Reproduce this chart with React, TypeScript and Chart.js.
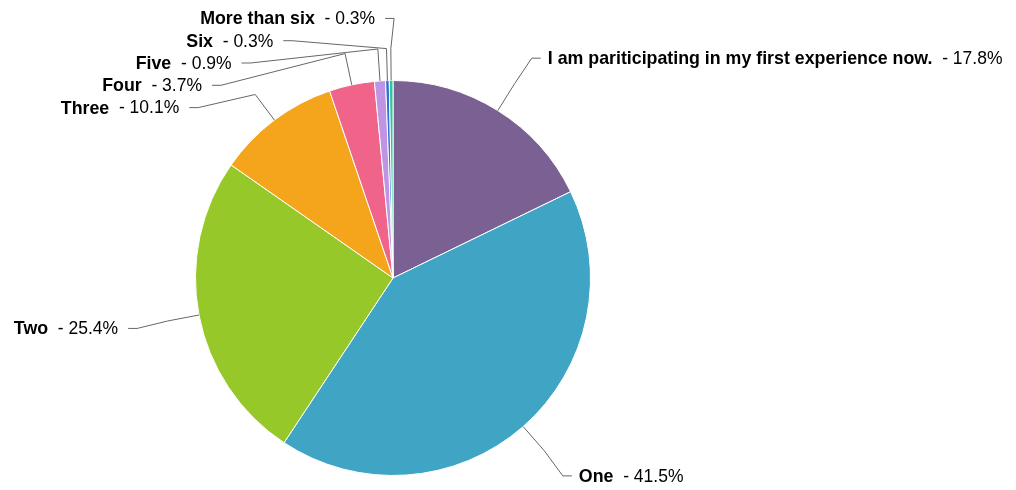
import React, { useEffect, useRef } from "react";
import { Chart, registerables } from "chart.js";

Chart.register(...registerables);

const categories = [
  "I am pariticipating in my first experience now.",
  "One",
  "Two",
  "Three",
  "Four",
  "Five",
  "Six",
  "More than six",
];
const values = [17.8, 41.5, 25.4, 10.1, 3.7, 0.9, 0.3, 0.3];
const colors = [
  "#7B6093",
  "#40A4C4",
  "#97C82A",
  "#F5A51C",
  "#F06489",
  "#BF95E3",
  "#3A70D6",
  "#2FC79A",
];

const BOLD = "bold 17.8px 'Liberation Sans', Arial, sans-serif";
const NORMAL = "17.5px 'Liberation Sans', Arial, sans-serif";

const leaderLabels = {
  id: "leaderLabels",
  afterDraw(chart: any) {
    const ctx = chart.ctx as CanvasRenderingContext2D;
    const meta = chart.getDatasetMeta(0);
    const data = chart.data.datasets[0].data as number[];
    const total = data.reduce((a, b) => a + b, 0);
    const Rx = 270;
    const Ry = 261.1;
    const RyX = 259.7;
    const spacing = 22.3;
    const minY = 17;
    const items = meta.data.map((arc: any, i: number) => {
      const p = arc.getProps(["x", "y", "startAngle", "endAngle", "outerRadius"], true);
      const mid = (p.startAngle + p.endAngle) / 2;
      const right = Math.cos(mid) >= 0;
      return {
        i,
        cx: p.x,
        cy: p.y,
        r: p.outerRadius,
        mid,
        right,
        ty: p.y + 1.5 + Ry * Math.sin(mid),
        ly: 0,
      };
    });
    for (const side of [true, false]) {
      const group = items.filter((it: any) => it.right === side).sort((a: any, b: any) => a.ty - b.ty);
      let prev = -Infinity;
      for (const it of group) {
        it.ly = Math.max(it.ty, prev + spacing, minY);
        prev = it.ly;
      }
    }
    ctx.save();
    for (const it of items) {
      const { cx, cy, r, mid, right, ly } = it;
      const dy = (ly - cy) / RyX;
      const dx = Rx * Math.sqrt(Math.max(0, 1 - dy * dy));
      const ex = right ? cx + dx + 4 : cx - dx;
      const inner = right ? ex - 9 : ex + 9;
      ctx.strokeStyle = "#666666";
      ctx.lineWidth = 1;
      ctx.beginPath();
      ctx.moveTo(cx + r * Math.cos(mid), cy + r * Math.sin(mid));
      ctx.lineTo(cx + (r + 32) * Math.cos(mid), cy + (r + 32) * Math.sin(mid));
      ctx.lineTo(inner, ly);
      ctx.lineTo(ex, ly);
      ctx.stroke();

      const name = categories[it.i];
      const rest = "  - " + ((data[it.i] / total) * 100).toFixed(1) + "%";
      ctx.textBaseline = "middle";
      ctx.textAlign = "left";
      ctx.font = BOLD;
      const wName = ctx.measureText(name).width;
      ctx.font = NORMAL;
      const wRest = ctx.measureText(rest).width;
      const startX = right ? ex + 7 : ex - 10 - wName - wRest;
      ctx.fillStyle = "#000000";
      ctx.font = BOLD;
      ctx.fillText(name, startX, ly + 1);
      ctx.font = NORMAL;
      ctx.fillText(rest, startX + wName, ly + 1);
    }
    ctx.restore();
  },
};

export default function App() {
  const ref = useRef<HTMLCanvasElement>(null);
  useEffect(() => {
    if (!ref.current) return;
    const chart = new Chart(ref.current, {
      type: "pie",
      data: {
        labels: categories,
        datasets: [
          {
            data: values,
            backgroundColor: colors,
            borderColor: "#ffffff",
            borderWidth: 1,
          },
        ],
      },
      options: {
        responsive: false,
        animation: false,
        layout: { padding: { left: 195, right: 425, top: 80, bottom: 14 } },
        plugins: {
          legend: { display: false },
          tooltip: { enabled: false },
        },
      },
      plugins: [leaderLabels],
    });
    return () => chart.destroy();
  }, []);
  return (
    <div style={{ position: "fixed", left: 0, top: 0, width: 1016, height: 490, background: "#fff" }}>
      <canvas ref={ref} width={1016} height={490} />
    </div>
  );
}
